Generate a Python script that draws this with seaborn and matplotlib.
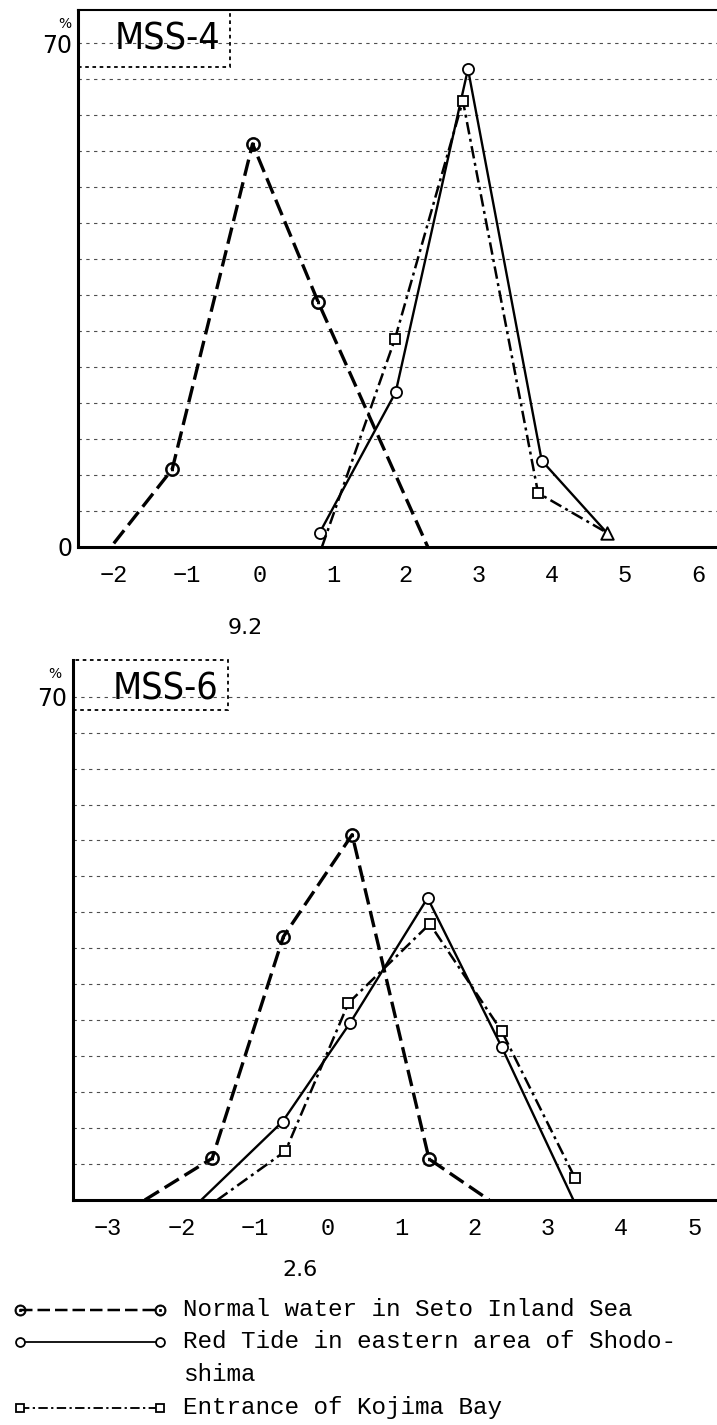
import matplotlib
matplotlib.use('Agg')
import matplotlib.pyplot as plt
import seaborn as sns
from matplotlib.patches import Rectangle

# ---- MSS-4 panel ----
mss4_ticks = [-2, -1, 0, 1, 2, 3, 4, 5, 6]
mss4_normal_x = [-2.0, -1.2, -0.1, 0.8, 2.3]
mss4_normal_y = [0.5, 10.8, 56.0, 34.0, 0.0]
mss4_red_x = [0.82, 1.86, 2.85, 3.86, 4.75]
mss4_red_y = [2.0, 21.5, 66.4, 12.0, 2.0]
mss4_kojima_x = [0.85, 1.85, 2.78, 3.81, 4.75]
mss4_kojima_y = [0.0, 28.9, 62.0, 7.5, 2.0]
mss4_tri_x = [4.75]
mss4_tri_y = [2.0]
mss4_marks = {'normal': [1, 2, 3], 'red': [0, 1, 2, 3], 'kojima': [1, 2, 3]}

# ---- MSS-6 panel ----
mss6_ticks = [-3, -2, -1, 0, 1, 2, 3, 4, 5]
mss6_normal_x = [-2.5, -1.58, -0.61, 0.33, 1.38, 2.2]
mss6_normal_y = [0.0, 5.8, 36.6, 50.8, 5.7, 0.0]
mss6_red_x = [-1.73, -0.62, 0.30, 1.36, 2.37, 3.35]
mss6_red_y = [0.0, 10.9, 24.6, 42.0, 21.3, 0.0]
mss6_kojima_x = [-1.51, -0.58, 0.28, 1.39, 2.37, 3.37]
mss6_kojima_y = [0.0, 6.8, 27.4, 38.4, 23.5, 3.1]
mss6_marks = {'normal': [1, 2, 3, 4], 'red': [1, 2, 3, 4], 'kojima': [1, 2, 3, 4, 5]}

y_ticks = [0, 10, 20, 30, 40, 50, 60, 70]
legend_labels = ['Normal water in Seto Inland Sea',
                 'Red Tide in eastern area of Shodo-\nshima',
                 'Entrance of Kojima Bay']

W, H = 717, 1425
MONO = ['Liberation Mono', 'DejaVu Sans Mono']
SANS = ['DejaVu Sans']

STYLES = {
    'normal': dict(linestyle=(0, (5, 2)), lw=2.4, marker=r'$\odot$', ms=10,
                   mfc='black', mec='black', mew=0.6),
    'red': dict(linestyle='-', lw=1.7, marker='o', ms=8, mfc='white',
                mec='black', mew=1.3),
    'kojima': dict(linestyle=(0, (5, 1.8, 1.2, 1.8)), lw=1.8, marker='s', ms=7,
                   mfc='white', mec='black', mew=1.3),
}

sns.set_theme(style='white')
plt.rcParams['font.family'] = SANS
plt.rcParams['text.color'] = 'black'
plt.rcParams['xtick.color'] = 'black'
plt.rcParams['ytick.color'] = 'black'


def fig_xy(px, py):
    return px / W, 1 - py / H


def draw_panel(ax, series, marks, ticks, xlim, ytop, ylabels, top_spine):
    for key, (xs, ys) in series.items():
        sns.lineplot(x=xs, y=ys, ax=ax, color='black', sort=False,
                     errorbar=None, markevery=marks[key], clip_on=False,
                     **STYLES[key])
    ax.set_xlim(*xlim)
    ax.set_ylim(0, ytop)
    ax.set_xticks(ticks)
    ax.set_xticklabels([str(t).replace('-', '\u2212') for t in ticks],
                       family=MONO, fontsize=17)
    ax.set_yticks(y_ticks)
    ax.set_yticklabels(ylabels, fontsize=17)
    ax.set_yticks(list(range(5, 75, 10)), minor=True)
    ax.tick_params(axis='both', which='major', direction='in', length=8,
                   width=1.8, color='black', labelcolor='black')
    ax.tick_params(axis='x', pad=12)
    ax.tick_params(axis='y', pad=4)
    ax.tick_params(axis='y', which='minor', length=0)
    ax.grid(True, axis='y', which='both', color='0.3', lw=0.8,
            linestyle=(0, (3, 4)))
    ax.set_xlabel('')
    ax.set_ylabel('')
    for side in ['left', 'bottom']:
        ax.spines[side].set_linewidth(2.2)
        ax.spines[side].set_color('black')
    ax.spines['right'].set_visible(False)
    ax.spines['top'].set_visible(top_spine)
    ax.spines['top'].set_linewidth(1.5)
    ax.spines['top'].set_color('black')


fig = plt.figure(figsize=(W / 100, H / 100), dpi=100)

# MSS-4
x0, y0 = fig_xy(78, 547)
ax4 = fig.add_axes([x0, y0, 1 - x0, (547 - 10) / H])
draw_panel(ax4,
           {'normal': (mss4_normal_x, mss4_normal_y),
            'red': (mss4_red_x, mss4_red_y),
            'kojima': (mss4_kojima_x, mss4_kojima_y)},
           mss4_marks, mss4_ticks, (-2.49, 6.26), 74.6,
           ['0', '', '', '', '', '', '', '70'], True)
sns.scatterplot(x=mss4_tri_x, y=mss4_tri_y, ax=ax4, marker='^', s=80,
                facecolor='white', edgecolor='black', linewidth=1.4,
                zorder=5, clip_on=False)

# MSS-6
x0, y0 = fig_xy(73, 1200)
ax6 = fig.add_axes([x0, y0, 1 - x0, (1200 - 660) / H])
draw_panel(ax6,
           {'normal': (mss6_normal_x, mss6_normal_y),
            'red': (mss6_red_x, mss6_red_y),
            'kojima': (mss6_kojima_x, mss6_kojima_y)},
           mss6_marks, mss6_ticks, (-3.48, 5.31), 75.1,
           ['', '', '', '', '', '', '', '70'], False)

# panel tags with their boxes
for name, (bx0, by0, bx1, by1), (tx, ty) in [
        ('MSS-4', (78, 10, 230, 67), (168, 40)),
        ('MSS-6', (73, 660, 228, 710), (166, 689))]:
    fx, fy = fig_xy(bx0, by1)
    fig.patches.append(Rectangle((fx, fy), (bx1 - bx0) / W, (by1 - by0) / H,
                                 transform=fig.transFigure, fill=False,
                                 edgecolor='black', lw=1.3,
                                 linestyle=(0, (2, 2))))
    fig.text(*fig_xy(tx, ty), name, family=SANS, fontstretch='condensed',
             fontsize=27, ha='center', va='center')

# percent signs above the 70 labels
fig.text(*fig_xy(65, 24), '%', fontsize=10, ha='center', va='center')
fig.text(*fig_xy(55, 674), '%', fontsize=10, ha='center', va='center')

# small values under each panel
fig.text(*fig_xy(245, 628), '9.2', family=SANS, fontsize=16,
         ha='center', va='center')
fig.text(*fig_xy(300, 1270), '2.6', family=SANS, fontsize=16,
         ha='center', va='center')

# legend drawn by hand
axL = fig.add_axes([0, 0, 1, 1], zorder=-1)
axL.set_xlim(0, W)
axL.set_ylim(H, 0)
axL.axis('off')
row_y = [1310, 1342, 1408]
for key, label, ry in zip(['normal', 'red', 'kojima'], legend_labels, row_y):
    st = dict(STYLES[key])
    st['ms'] = st['ms'] * 0.8
    st['lw'] = st['lw'] * 0.75
    axL.plot([20, 160], [ry, ry], color='black', markevery=[0, 1], **st)
    axL.text(183, ry - 12, label, family=MONO, fontsize=17.5, va='top',
             ha='left', linespacing=1.55)

fig.savefig('out.png', dpi=100)
